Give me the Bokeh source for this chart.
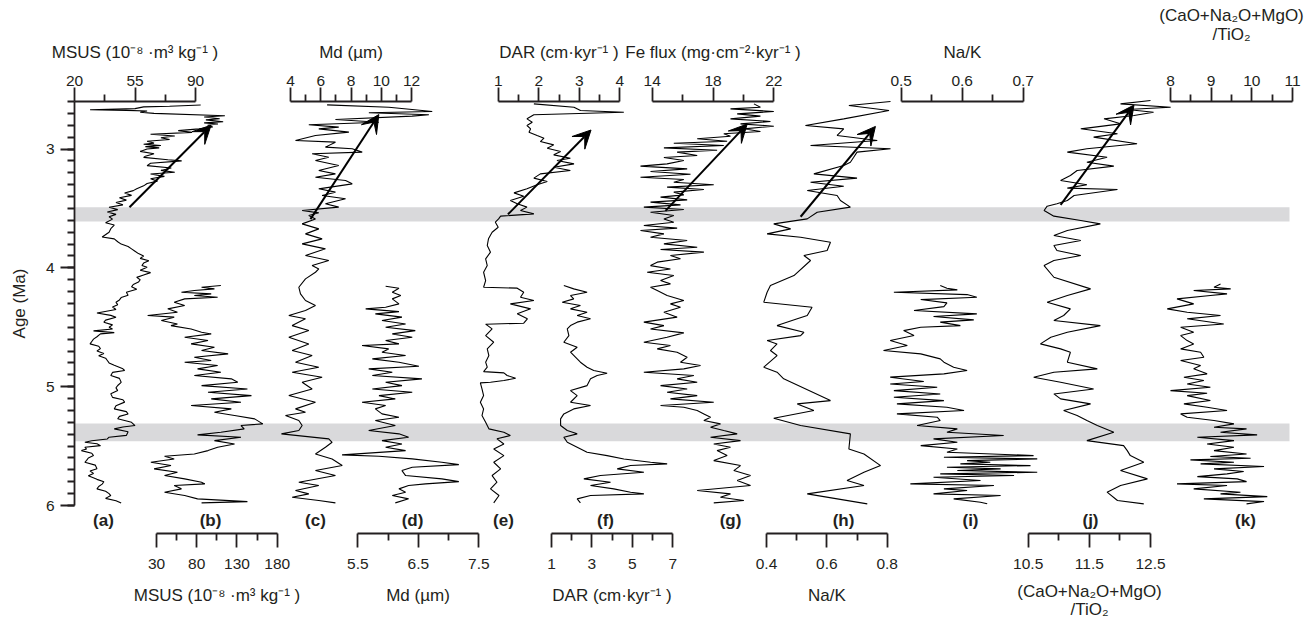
from bokeh.plotting import figure
from bokeh.models import Range1d, LinearAxis, FixedTicker, BoxAnnotation, Arrow, VeeHead
from bokeh.embed import file_html
from bokeh.resources import INLINE
from bokeh.core.properties import value

# ---------------- data (age in Ma, value) ----------------
age_a = [2.63,2.64,2.645,2.66,2.67,2.675,2.68,2.69,2.70,2.72,2.73,2.745,2.755,2.77,2.78,2.79,2.80,2.815,2.83,2.845,2.86,2.875,2.89,2.905,2.92,2.935,2.95,2.96,2.97,2.98,2.99,3.00,3.02,3.04,3.06,3.07,3.09,3.10,3.12,3.14,3.16,3.18,3.195,3.21,3.23,3.25,3.27,3.29,3.31,3.335,3.35,3.37,3.39,3.41,3.43,3.45,3.47,3.49,3.51,3.53,3.55,3.57,3.59,3.62,3.64,3.67,3.70,3.74,3.756,3.78,3.80,3.82,3.84,3.86,3.88,3.90,3.92,3.94,3.96,3.98,3.995,4.02,4.04,4.06,4.08,4.10,4.12,4.14,4.16,4.18,4.205,4.23,4.25,4.27,4.29,4.31,4.33,4.35,4.38,4.40,4.415,4.44,4.457,4.48,4.50,4.514,4.53,4.545,4.556,4.58,4.60,4.62,4.64,4.66,4.68,4.70,4.72,4.74,4.76,4.78,4.80,4.82,4.85,4.864,4.88,4.906,4.93,4.963,4.99,5.01,5.033,5.06,5.09,5.11,5.13,5.16,5.187,5.21,5.23,5.25,5.27,5.30,5.327,5.34,5.355,5.38,5.41,5.425,5.44,5.455,5.468,5.48,5.496,5.51,5.525,5.538,5.56,5.58,5.60,5.62,5.636,5.66,5.69,5.71,5.73,5.75,5.78,5.80,5.82,5.84,5.86,5.88,5.90,5.916,5.94,5.96,5.98]
msus_a = [93,75,60,55,29,50,62,58,66,107,95,104,96,106,95,103,97,100,92,80,88,64,78,70,75,62,66,60,70,61,69,62,58,66,61,60,74,82,64,62,76,70,78,64,72,64,68,62,60,56,54,49,53,46,50,44,48,40,45,39,44,40,42,38,43,41,40,36,43,45,47,51,53,55,57,60,58,63,60,59,62,58,64,60,56,58,57,54,53,56,50,51,47,46,44,45,42,44,33,41,44,38,37,42,40,42,31,43,35,33,31,30,29,34,35,33,37,34,38,39,40,43,48,49,42,41,46,47,45,44,45,41,42,48,49,44,43,50,51,46,45,53,55,48,43,51,50,40,39,30,26,33,35,26,27,24,30,31,28,27,26,32,33,29,31,28,33,37,36,34,33,38,40,41,38,44,47]

age_b = [4.149,4.163,4.177,4.191,4.205,4.219,4.233,4.247,4.261,4.289,4.317,4.345,4.373,4.401,4.415,4.443,4.472,4.486,4.514,4.542,4.556,4.584,4.612,4.640,4.668,4.696,4.724,4.752,4.780,4.794,4.822,4.850,4.878,4.906,4.934,4.963,4.991,5.019,5.047,5.075,5.103,5.131,5.159,5.187,5.215,5.243,5.271,5.313,5.327,5.355,5.383,5.406,5.425,5.454,5.482,5.510,5.538,5.566,5.586,5.608,5.636,5.664,5.692,5.720,5.748,5.776,5.804,5.818,5.832,5.860,5.888,5.916,5.944,5.967,5.978]
msus_b = [110,86,102,77,61,98,77,106,65,52,65,44,56,19,52,36,56,48,73,86,98,65,94,73,102,86,119,77,98,65,106,81,110,77,123,131,86,143,94,148,98,135,73,123,102,127,152,162,135,139,110,81,135,102,127,106,94,77,40,52,23,48,27,56,40,65,86,90,52,61,40,65,81,143,86]

age_c = [2.628,2.648,2.667,2.684,2.695,2.712,2.723,2.752,2.774,2.796,2.816,2.830,2.858,2.886,2.928,2.942,2.984,2.998,3.026,3.040,3.069,3.097,3.139,3.181,3.209,3.237,3.265,3.293,3.335,3.363,3.391,3.419,3.461,3.489,3.517,3.537,3.560,3.588,3.630,3.672,3.714,3.756,3.798,3.840,3.896,3.938,3.981,4.009,4.037,4.093,4.163,4.219,4.275,4.317,4.359,4.401,4.429,4.486,4.528,4.584,4.640,4.696,4.738,4.794,4.836,4.878,4.920,4.963,5.019,5.075,5.131,5.187,5.215,5.243,5.285,5.327,5.369,5.397,5.439,5.468,5.510,5.566,5.608,5.664,5.706,5.748,5.804,5.832,5.874,5.902,5.930,5.958,5.978]
md_c = [6.42,10.5,12.04,13.37,9.18,13.15,12.04,6.97,9.84,5.21,7.19,5.87,7.86,5.65,4.33,6.97,6.31,8.08,8.74,5.43,6.53,5.65,7.19,5.87,6.97,5.65,7.64,8.08,5.87,6.97,6.09,7.64,6.31,7.19,4.77,5.87,5.21,5.65,4.77,5.87,4.99,6.09,4.77,6.31,4.99,6.53,5.43,5.87,5.65,4.99,4.55,4.66,4.99,5.65,4.99,3.89,4.99,4.11,5.21,3.89,5.21,4.11,5.43,4.33,5.87,4.11,6.09,4.77,5.43,3.89,5.65,4.33,4.99,3.67,4.55,4.77,4.55,3.4,6.53,6.75,6.31,5.65,6.75,7.42,5.65,6.97,4.55,5.87,4.33,5.21,4.11,5.87,6.97]

age_d = [4.155,4.171,4.205,4.233,4.261,4.303,4.331,4.345,4.368,4.387,4.415,4.443,4.472,4.500,4.528,4.556,4.584,4.612,4.640,4.654,4.682,4.710,4.738,4.766,4.794,4.828,4.850,4.878,4.906,4.934,4.963,4.991,5.019,5.047,5.075,5.103,5.131,5.159,5.187,5.229,5.257,5.285,5.327,5.369,5.397,5.425,5.454,5.482,5.510,5.538,5.574,5.586,5.608,5.636,5.656,5.678,5.706,5.748,5.776,5.799,5.818,5.832,5.860,5.888,5.916,5.944,5.978]
md_d = [5.96,6.18,6.07,6.21,6.07,6.18,5.96,5.63,6.18,5.79,6.23,5.90,6.29,5.96,6.45,6.07,6.40,5.96,6.18,5.57,6.01,5.90,6.29,5.74,6.18,6.51,5.68,6.07,5.74,6.56,5.96,6.23,5.74,6.40,5.85,6.12,5.57,5.96,5.79,5.90,6.18,5.79,6.12,5.68,6.18,6.34,5.90,6.23,5.96,6.29,5.24,5.85,6.40,6.89,7.17,6.40,6.23,6.29,6.89,7.17,6.62,6.34,6.18,6.29,6.07,6.34,6.12]

age_e = [2.620,2.648,2.676,2.690,2.712,2.746,2.774,2.802,2.830,2.858,2.886,2.909,2.937,2.965,2.993,3.021,3.049,3.077,3.097,3.125,3.153,3.181,3.209,3.245,3.273,3.301,3.335,3.369,3.397,3.433,3.461,3.489,3.517,3.546,3.565,3.588,3.616,3.658,3.700,3.756,3.812,3.868,3.924,3.981,4.037,4.107,4.163,4.171,4.205,4.247,4.275,4.303,4.345,4.387,4.429,4.466,4.474,4.514,4.570,4.626,4.682,4.738,4.794,4.836,4.873,4.884,4.906,4.929,4.948,4.963,4.968,5.019,5.075,5.131,5.187,5.243,5.299,5.355,5.383,5.411,5.439,5.482,5.524,5.580,5.636,5.692,5.748,5.804,5.860,5.916,5.978]
dar_e = [1.88,2.87,3.03,4.10,1.88,1.71,1.84,1.71,1.80,1.76,1.96,2.13,2.04,2.37,2.21,2.54,2.37,2.78,2.45,2.87,2.37,2.78,2.04,1.88,2.21,1.96,1.71,1.39,1.63,1.30,1.47,1.71,1.55,1.88,1.06,1.01,0.93,1.00,0.85,0.76,0.73,0.81,0.69,0.73,0.64,0.69,0.64,1.47,1.63,1.55,1.88,1.30,1.80,1.47,1.72,1.63,0.69,0.85,0.69,0.89,0.73,0.77,0.69,0.73,0.64,1.14,1.22,1.43,1.14,0.81,0.56,0.60,0.64,0.56,0.64,0.60,0.69,0.77,1.14,1.30,0.97,1.14,0.89,1.14,0.89,1.06,0.85,0.97,0.81,1.02,0.89]

age_f = [4.149,4.177,4.205,4.233,4.261,4.289,4.317,4.345,4.373,4.401,4.429,4.457,4.486,4.514,4.570,4.626,4.668,4.710,4.766,4.794,4.836,4.864,4.887,4.906,4.934,4.991,5.033,5.075,5.131,5.159,5.187,5.229,5.271,5.327,5.369,5.397,5.425,5.468,5.510,5.552,5.580,5.608,5.636,5.650,5.664,5.692,5.720,5.748,5.776,5.804,5.832,5.860,5.888,5.902,5.916,5.944,5.978]
dar_f = [1.61,2.10,2.76,1.94,2.10,1.53,2.43,1.94,2.76,2.27,2.93,2.27,1.94,1.78,1.86,1.61,2.27,1.94,2.27,2.43,2.76,3.09,3.75,3.26,2.93,2.76,1.94,2.27,1.94,2.93,2.10,1.61,1.45,1.45,1.78,2.27,1.61,1.78,2.27,2.76,3.75,4.58,5.90,6.72,4.91,4.25,5.57,3.42,2.60,3.92,2.93,4.08,4.91,5.57,2.93,2.27,2.43]

age_g = [2.620,2.648,2.662,2.684,2.704,2.723,2.746,2.768,2.788,2.808,2.830,2.853,2.872,2.892,2.914,2.934,2.951,2.970,2.990,3.010,3.026,3.055,3.071,3.097,3.125,3.144,3.167,3.189,3.212,3.237,3.256,3.279,3.301,3.321,3.341,3.363,3.386,3.405,3.428,3.447,3.470,3.489,3.509,3.532,3.560,3.588,3.616,3.644,3.666,3.686,3.714,3.742,3.770,3.798,3.826,3.846,3.868,3.896,3.924,3.952,3.981,4.009,4.037,4.065,4.107,4.135,4.163,4.191,4.233,4.275,4.303,4.331,4.373,4.415,4.457,4.486,4.514,4.547,4.584,4.626,4.654,4.682,4.710,4.752,4.794,4.822,4.850,4.878,4.906,4.934,4.963,4.991,5.019,5.047,5.075,5.103,5.131,5.159,5.173,5.201,5.229,5.257,5.285,5.313,5.341,5.369,5.397,5.425,5.454,5.482,5.510,5.538,5.580,5.622,5.664,5.706,5.748,5.790,5.832,5.874,5.902,5.930,5.958,5.978]
fe_g = [20.69,21.12,19.15,22.0,19.59,21.12,19.15,21.78,19.81,22.0,20.03,21.12,18.71,19.15,16.96,18.93,15.42,18.71,14.77,18.27,15.64,16.96,14.77,16.08,14.98,13.23,16.30,13.89,16.52,13.23,16.08,15.42,18.05,14.98,17.40,15.42,16.08,14.55,16.30,13.89,15.86,13.45,16.08,13.89,15.42,14.77,15.42,13.45,15.64,13.23,14.77,13.89,16.30,14.77,16.96,14.55,17.40,15.20,15.86,14.33,13.89,15.20,13.67,15.42,14.55,15.20,13.89,14.33,14.98,16.08,15.20,15.86,14.77,15.64,13.45,14.77,13.89,16.08,14.98,13.45,15.20,14.33,15.64,16.30,15.86,17.18,16.08,13.45,16.74,15.64,16.96,14.55,16.30,14.98,16.96,15.20,18.05,14.55,16.08,16.96,17.40,17.84,17.40,18.49,17.84,18.71,19.59,17.84,19.81,18.05,19.15,18.27,18.93,18.05,19.81,19.37,20.47,19.59,20.47,16.96,19.15,18.49,20.03,18.05]

age_h = [2.600,2.634,2.676,2.746,2.802,2.830,2.886,2.928,2.970,2.998,3.026,3.069,3.111,3.139,3.209,3.245,3.279,3.313,3.349,3.391,3.433,3.489,3.532,3.588,3.630,3.672,3.714,3.742,3.784,3.854,3.896,3.938,4.065,4.149,4.205,4.289,4.331,4.401,4.429,4.486,4.542,4.570,4.612,4.640,4.696,4.738,4.836,4.878,4.934,5.117,5.145,5.201,5.266,5.327,5.397,5.524,5.566,5.664,5.720,5.790,5.832,5.902,5.986]
nak_h = [0.811,0.673,0.806,0.656,0.529,0.656,0.634,0.767,0.546,0.811,0.700,0.689,0.678,0.656,0.557,0.700,0.546,0.656,0.535,0.634,0.645,0.678,0.568,0.535,0.424,0.480,0.402,0.513,0.612,0.601,0.524,0.546,0.491,0.413,0.402,0.391,0.551,0.535,0.502,0.435,0.524,0.513,0.402,0.435,0.413,0.435,0.391,0.435,0.457,0.612,0.502,0.557,0.424,0.513,0.678,0.673,0.723,0.778,0.723,0.667,0.723,0.535,0.734]

age_i = [4.149,4.171,4.185,4.205,4.225,4.247,4.267,4.295,4.326,4.359,4.387,4.410,4.438,4.457,4.486,4.500,4.528,4.570,4.612,4.654,4.696,4.724,4.766,4.794,4.836,4.864,4.892,4.920,4.957,4.977,5.005,5.033,5.061,5.089,5.117,5.145,5.173,5.201,5.229,5.257,5.285,5.327,5.355,5.383,5.411,5.439,5.468,5.496,5.524,5.552,5.580,5.594,5.608,5.622,5.636,5.650,5.664,5.678,5.692,5.706,5.720,5.734,5.748,5.762,5.790,5.818,5.832,5.860,5.874,5.902,5.916,5.944,5.972,5.986]
nak_i = [0.564,0.575,0.592,0.488,0.608,0.624,0.532,0.575,0.570,0.521,0.624,0.553,0.619,0.564,0.597,0.532,0.504,0.521,0.482,0.510,0.471,0.532,0.564,0.570,0.586,0.608,0.570,0.482,0.537,0.482,0.559,0.488,0.564,0.488,0.570,0.493,0.575,0.603,0.493,0.559,0.564,0.526,0.592,0.575,0.668,0.553,0.592,0.532,0.592,0.575,0.717,0.570,0.723,0.608,0.646,0.597,0.712,0.575,0.663,0.592,0.723,0.564,0.685,0.553,0.630,0.515,0.652,0.570,0.608,0.553,0.663,0.586,0.630,0.641]

age_j = [2.592,2.620,2.648,2.667,2.690,2.718,2.746,2.788,2.830,2.872,2.900,2.956,2.998,3.026,3.069,3.111,3.144,3.181,3.223,3.265,3.301,3.329,3.341,3.391,3.433,3.461,3.481,3.517,3.565,3.602,3.630,3.686,3.728,3.770,3.812,3.854,3.896,3.938,3.981,4.079,4.177,4.233,4.289,4.345,4.401,4.443,4.486,4.542,4.584,4.640,4.682,4.710,4.794,4.850,4.878,4.920,4.963,5.019,5.061,5.103,5.145,5.201,5.243,5.285,5.327,5.383,5.454,5.496,5.538,5.580,5.636,5.706,5.776,5.832,5.888,5.958,5.986]
cnm_j = [12.50,12.01,12.83,12.12,12.55,12.23,11.74,12.01,11.36,11.96,11.57,12.28,11.46,11.14,11.79,11.46,11.90,11.30,11.19,11.03,11.46,11.14,11.96,11.25,11.14,10.97,10.81,10.76,10.92,11.36,11.68,11.14,10.92,11.36,10.92,10.97,11.36,10.92,10.76,10.92,11.52,11.14,10.81,11.19,11.08,10.92,11.68,11.14,10.87,10.70,11.03,11.19,11.14,11.63,10.92,10.59,11.03,11.57,10.92,11.03,11.52,11.08,11.30,11.46,11.63,11.90,11.46,12.06,12.12,12.17,12.39,12.01,12.45,12.01,11.79,11.96,12.39]

age_k = [4.135,4.163,4.177,4.191,4.219,4.233,4.261,4.303,4.345,4.373,4.401,4.429,4.472,4.500,4.542,4.570,4.612,4.640,4.682,4.710,4.752,4.780,4.822,4.850,4.892,4.920,4.948,4.977,5.005,5.033,5.055,5.075,5.117,5.145,5.173,5.201,5.229,5.257,5.285,5.313,5.341,5.355,5.383,5.406,5.425,5.454,5.482,5.510,5.538,5.566,5.588,5.602,5.616,5.636,5.650,5.672,5.692,5.714,5.734,5.757,5.776,5.799,5.818,5.832,5.860,5.888,5.902,5.925,5.944,5.967,5.986]
cnm_k = [9.23,9.07,9.48,8.57,9.39,8.98,8.16,8.57,7.92,8.41,9.23,8.41,9.31,8.25,8.57,8.25,8.41,8.57,8.25,8.74,8.82,8.25,8.74,8.57,8.90,8.33,8.82,8.41,8.98,8.00,8.90,8.41,8.98,8.33,8.90,9.39,8.25,8.41,9.07,9.56,9.07,9.87,9.23,10.13,8.66,9.56,8.90,9.56,9.07,9.87,8.98,9.97,8.49,9.56,8.74,10.30,9.07,9.80,9.39,8.66,9.64,9.87,8.16,9.39,8.57,9.72,9.23,10.38,8.82,10.30,9.87]

# trend arrows: (value_start, age_start, value_end, age_end)
arrow_a = (51.8, 3.49, 99.0, 2.80)
arrow_c = (5.32, 3.59, 9.84, 2.71)
arrow_e = (1.24, 3.55, 3.29, 2.84)
arrow_g = (14.87, 3.52, 20.25, 2.79)
arrow_h = (0.513, 3.57, 0.761, 2.81)
arrow_j = (11.03, 3.47, 12.23, 2.63)

# highlighted intervals (Ma)
band_top = [3.49, 5.31]
band_bottom = [3.61, 5.46]

# ticks of each axis (major with labels, minor)
ticks = {
    "a": ([20, 55, 90], [37.5, 72.5]),
    "b": ([30, 80, 130, 180], [55, 105, 155]),
    "c": ([4, 6, 8, 10, 12], [5, 7, 9, 11]),
    "d": ([5.5, 6.5, 7.5], [6, 7]),
    "e": ([1, 2, 3, 4], [1.5, 2.5, 3.5]),
    "f": ([1, 3, 5, 7], [2, 4, 6]),
    "g": ([14, 18, 22], [16, 20]),
    "h": ([0.4, 0.6, 0.8], [0.5, 0.7]),
    "i": ([0.5, 0.6, 0.7], [0.55, 0.65]),
    "j": ([10.5, 11.5, 12.5], [11, 12]),
    "k": ([8, 9, 10, 11], [8.5, 9.5, 10.5]),
}
titles = {
    "a": "MSUS (10⁻⁸ ·m³ kg⁻¹ )",
    "b": "MSUS (10⁻⁸ ·m³ kg⁻¹ )",
    "c": "Md (µm)",
    "d": "Md (µm)",
    "e": "DAR (cm·kyr⁻¹ )",
    "f": "DAR (cm·kyr⁻¹ )",
    "g": "Fe flux (mg·cm⁻²·kyr⁻¹ )",
    "h": "Na/K",
    "i": "Na/K",
    "j": "(CaO+Na₂O+MgO)\n/TiO₂",
    "k": "(CaO+Na₂O+MgO)\n/TiO₂",
}
panel_labels = ["(a)", "(b)", "(c)", "(d)", "(e)", "(f)", "(g)", "(h)", "(i)", "(j)", "(k)"]

# ---------------- layout (pixels) ----------------
W, H = 1315, 621
YAX_PX = 74
PX_TOP, PX_BOT = 101, 505
AGE0, AGE1 = 2.6, 6.0
PPA = (PX_BOT - PX_TOP) / (AGE1 - AGE0)


def age_px(py):
    return AGE0 + (py - PX_TOP) / PPA


# axis placement: key -> (px of first value, first value, px of last value, last value, side)
axis_pos = {
    "a": (74.0, 20, 195.0, 90, "above"),
    "b": (156.0, 30, 276.7, 180, "below"),
    "c": (290.0, 4, 411.0, 12, "above"),
    "d": (357.3, 5.5, 478.3, 7.5, "below"),
    "e": (497.7, 1, 619.3, 4, "above"),
    "f": (551.0, 1, 672.3, 7, "below"),
    "g": (651.7, 14, 773.3, 22, "above"),
    "h": (766.0, 0.4, 886.7, 0.8, "below"),
    "i": (900.7, 0.5, 1022.7, 0.7, "above"),
    "j": (1027.7, 10.5, 1150.0, 12.5, "below"),
    "k": (1170.0, 8, 1292.0, 11, "above"),
}
label_px = [103, 210, 315, 412, 503, 605, 730, 843, 970, 1090, 1245]

INK = "#231f20"
FONT = "Liberation Sans"

p = figure(width=W, height=H, output_backend="svg", toolbar_location=None,
           x_range=Range1d(0, W), y_range=Range1d(age_px(H), age_px(0)),
           x_axis_type=None, y_axis_type=None,
           min_border_left=0, min_border_right=0, min_border_top=0, min_border_bottom=0)
p.outline_line_color = None
p.extra_y_ranges = {"px": Range1d(H, 0)}

ranges = {}
for k, (p0, v0, p1, v1, side) in axis_pos.items():
    s = (v1 - v0) / (p1 - p0)
    ranges[k] = Range1d(v0 + (0 - p0) * s, v0 + (W - p0) * s)
p.extra_x_ranges = ranges


def style(ax):
    ax.axis_line_width = 1.8
    ax.axis_line_color = INK
    ax.major_tick_line_width = 1.8
    ax.minor_tick_line_width = 1.8
    ax.major_tick_line_color = INK
    ax.minor_tick_line_color = INK
    ax.major_tick_in = 0
    ax.major_tick_out = 14
    ax.minor_tick_in = 0
    ax.minor_tick_out = 7
    ax.major_label_text_font = FONT
    ax.major_label_text_font_size = "15.5px"
    ax.major_label_text_color = INK
    ax.axis_label_text_font = FONT
    ax.axis_label_text_font_size = "17px"
    ax.axis_label_text_font_style = "normal"
    ax.axis_label_text_color = INK
    ax.axis_label_text_line_height = 0.95


# bands
for t, b in zip(band_top, band_bottom):
    p.add_layout(BoxAnnotation(top=t, bottom=b, left=YAX_PX, right=1289,
                               fill_color="#d9d9db", fill_alpha=1.0, line_color=None,
                               level="underlay"))

# y axis
yax = LinearAxis(bounds=(AGE0, AGE1), fixed_location=YAX_PX,
                 ticker=FixedTicker(ticks=[3, 4, 5, 6],
                                    minor_ticks=[round(2.6 + 0.1 * i, 1) for i in range(35)]),
                 axis_label="Age (Ma)")
style(yax)
yax.major_label_standoff = 6
yax.axis_label_standoff = 14
p.add_layout(yax, "left")

bottom_age = age_px(533)
series = {
    "a": (age_a, msus_a), "b": (age_b, msus_b), "c": (age_c, md_c), "d": (age_d, md_d),
    "e": (age_e, dar_e), "f": (age_f, dar_f), "g": (age_g, fe_g), "h": (age_h, nak_h),
    "i": (age_i, nak_i), "j": (age_j, cnm_j), "k": (age_k, cnm_k),
}
for k, (ages, vals) in series.items():
    assert len(ages) == len(vals), k
    p.line(vals, ages, x_range_name=k, line_color="black", line_width=1.1)

for k, (p0, v0, p1, v1, side) in axis_pos.items():
    majors, minors = ticks[k]
    ax = LinearAxis(x_range_name=k, bounds=(v0, v1),
                    fixed_location=(AGE0 if side == "above" else bottom_age),
                    ticker=FixedTicker(ticks=majors, minor_ticks=minors),
                    axis_label=titles[k])
    style(ax)
    if side == "above":
        ax.major_label_standoff = 2
        ax.axis_label_standoff = 29 if k == "k" else 11
    else:
        ax.major_label_standoff = 11
        ax.axis_label_standoff = 10 if k == "j" else 14
    p.add_layout(ax, side)

arrows = {"a": arrow_a, "c": arrow_c, "e": arrow_e, "g": arrow_g, "h": arrow_h, "j": arrow_j}
for k, (xs, ys, xe, ye) in arrows.items():
    p.add_layout(Arrow(end=VeeHead(size=18, fill_color="black", line_color="black", line_width=1),
                       x_start=xs, y_start=ys, x_end=xe, y_end=ye, x_range_name=k,
                       line_color="black", line_width=2))

p.text(x=label_px, y=[520] * len(label_px), text=panel_labels, y_range_name="px",
       text_align="center", text_baseline="middle", text_font=value(FONT),
       text_font_style="bold", text_font_size="17px", text_color=INK)

open("out.html", "w").write(file_html(p, INLINE))
